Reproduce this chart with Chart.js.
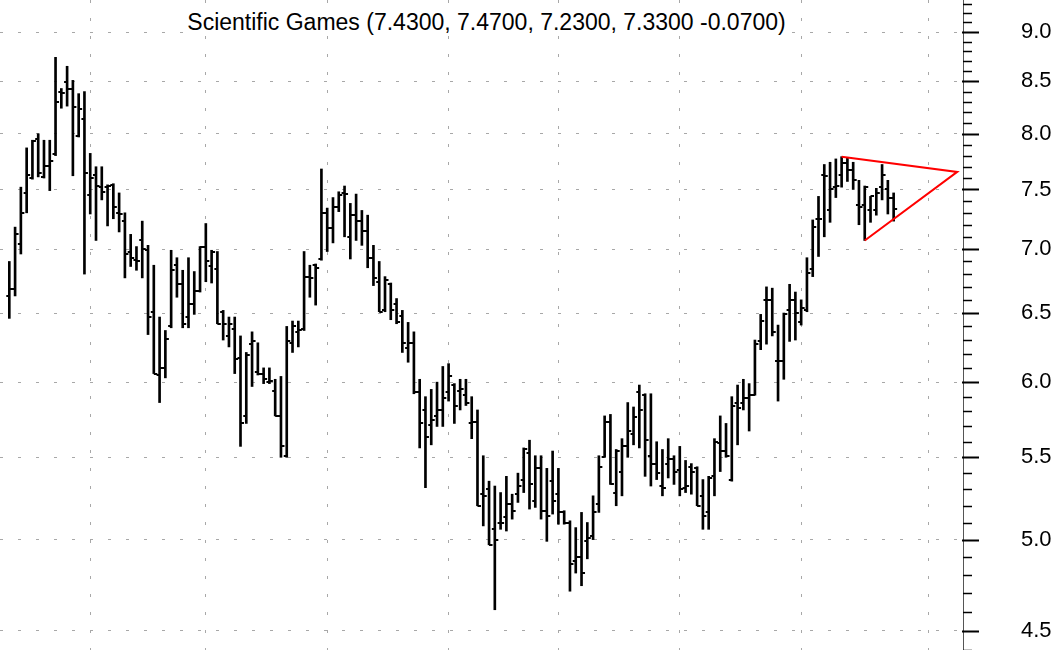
<!DOCTYPE html>
<html>
<head>
<meta charset="utf-8">
<script src="https://cdn.jsdelivr.net/npm/chart.js@4.4.1/dist/chart.umd.min.js"></script>
<style>
  body { margin: 0; background: #fff; }
  #wrap { position: relative; width: 1061px; height: 650px; overflow: hidden; }
  #caption { position: absolute; left: 0; top: 8px; width: 973px; text-align: center;
             font-family: 'Liberation Sans', Arial, sans-serif; font-size: 23px; line-height: 28px; color: #000; }
  #caption span { background: #fff; padding: 0 3px; }
</style>
</head>
<body>
<div id="wrap">
  <canvas id="chart" width="1061" height="650"></canvas>
  <div id="caption"><span>Scientific Games (7.4300, 7.4700, 7.2300, 7.3300 -0.0700)</span></div>
</div>
<script>
// daily bars, oldest first
const opens = [
  6.63, 6.68, 7.04, 7.47, 7.60, 7.95, 7.61, 7.71, 7.81, 8.40,
  8.49, 8.43, 7.98, 8.14, 7.45, 7.63, 7.52, 7.52, 7.54, 7.30,
  7.23, 6.98, 6.91, 7.07, 6.99, 6.51, 6.05, 6.10, 6.40, 6.87,
  6.72, 6.47, 6.57, 6.67, 7.02, 6.86, 6.84, 6.51, 6.33, 6.38,
  6.17, 5.77, 6.27, 6.07, 6.06, 6.00, 5.94, 5.77, 5.51, 6.28,
  6.36, 6.38, 6.78, 6.87, 6.92, 7.30, 7.17, 7.35, 7.47, 7.10,
  7.28, 7.23, 7.15, 6.93, 6.74, 6.52, 6.72, 6.57, 6.48, 6.24,
  6.28, 5.93, 5.81, 5.71, 5.77, 5.81, 5.93, 5.98, 5.94, 5.91,
  5.72, 5.73, 5.27, 5.30, 5.06, 5.10, 5.13, 5.21, 5.27, 5.36,
  5.53, 5.23, 5.43, 5.17, 5.35, 5.27, 5.16, 5.10, 4.88, 4.90,
  4.99, 5.02, 5.21, 5.50, 5.73, 5.28, 5.41, 5.57, 5.65, 5.93,
  5.91, 5.51, 5.46, 5.32, 5.46, 5.49, 5.42, 5.31, 5.44, 5.43,
  5.26, 5.16, 5.38, 5.59, 5.54, 5.36, 5.86, 5.86, 5.89, 5.91,
  6.29, 6.60, 6.60, 6.15, 6.15, 6.52, 6.60, 6.43, 6.52, 6.84,
  7.25, 7.63, 7.32, 7.52, 7.63, 7.73, 7.67, 7.37, 7.37, 7.32,
  7.32, 7.52, 7.50, 7.43
];
const highs = [
  6.90, 7.18, 7.52, 7.87, 7.94, 8.00, 7.94, 7.94, 8.74, 8.43,
  8.65, 8.51, 8.38, 8.40, 7.82, 7.70, 7.70, 7.54, 7.55, 7.47,
  7.30, 7.12, 7.02, 7.23, 7.03, 6.87, 6.47, 6.37, 6.99, 6.93,
  6.83, 6.93, 6.82, 7.02, 7.21, 6.99, 6.98, 6.52, 6.47, 6.47,
  6.33, 6.21, 6.36, 6.28, 6.10, 6.10, 6.02, 6.04, 6.40, 6.44,
  6.44, 6.98, 6.87, 6.88, 7.68, 7.34, 7.43, 7.48, 7.53, 7.38,
  7.46, 7.32, 7.28, 7.03, 6.90, 6.78, 6.73, 6.61, 6.52, 6.43,
  6.36, 6.02, 5.90, 5.95, 6.00, 6.11, 6.13, 5.99, 6.02, 6.02,
  5.90, 5.81, 5.51, 5.35, 5.32, 5.28, 5.38, 5.27, 5.40, 5.56,
  5.61, 5.51, 5.51, 5.43, 5.54, 5.43, 5.17, 5.11, 5.07, 5.16,
  5.10, 5.26, 5.51, 5.77, 5.78, 5.55, 5.62, 5.86, 5.83, 5.98,
  5.92, 5.92, 5.60, 5.55, 5.62, 5.51, 5.57, 5.48, 5.46, 5.44,
  5.36, 5.38, 5.62, 5.77, 5.72, 5.90, 5.98, 6.02, 5.99, 6.30,
  6.49, 6.70, 6.69, 6.41, 6.50, 6.72, 6.66, 6.60, 6.93, 7.24,
  7.44, 7.72, 7.74, 7.77, 7.79, 7.78, 7.74, 7.58, 7.53, 7.44,
  7.51, 7.72, 7.58, 7.47
];
const lows = [
  6.46, 6.63, 6.96, 7.30, 7.59, 7.61, 7.60, 7.49, 7.80, 8.24,
  8.26, 7.62, 7.97, 6.80, 7.29, 7.07, 7.41, 7.19, 7.25, 7.14,
  6.77, 6.86, 6.83, 6.77, 6.34, 6.06, 5.86, 6.03, 6.39, 6.62,
  6.39, 6.39, 6.49, 6.66, 6.74, 6.73, 6.42, 6.30, 6.25, 6.06,
  5.57, 5.72, 5.97, 6.05, 5.99, 5.99, 5.77, 5.50, 5.50, 6.21,
  6.25, 6.37, 6.62, 6.56, 6.91, 6.98, 7.05, 7.31, 7.10, 6.92,
  7.07, 7.03, 6.85, 6.71, 6.51, 6.51, 6.45, 6.42, 6.21, 6.14,
  5.92, 5.56, 5.31, 5.58, 5.70, 5.70, 5.87, 5.72, 5.81, 5.84,
  5.62, 5.20, 5.08, 4.97, 4.61, 5.06, 5.05, 5.12, 5.22, 5.28,
  5.18, 5.19, 5.12, 4.99, 5.15, 5.09, 5.09, 4.71, 4.81, 4.74,
  4.89, 5.00, 5.16, 5.50, 5.33, 5.20, 5.26, 5.50, 5.58, 5.56,
  5.38, 5.32, 5.36, 5.26, 5.37, 5.33, 5.26, 5.28, 5.27, 5.20,
  5.06, 5.06, 5.26, 5.41, 5.50, 5.35, 5.58, 5.81, 5.67, 5.91,
  6.23, 6.27, 6.33, 5.87, 6.02, 6.29, 6.30, 6.41, 6.51, 6.78,
  6.94, 7.10, 7.22, 7.43, 7.52, 7.57, 7.50, 7.20, 7.07, 7.22,
  7.28, 7.41, 7.29, 7.23
];
const closes = [
  6.68, 7.12, 7.30, 7.63, 7.93, 7.64, 7.71, 7.75, 8.30, 8.39,
  8.43, 8.25, 8.23, 7.64, 7.60, 7.53, 7.48, 7.53, 7.35, 7.29,
  6.96, 6.93, 6.90, 7.00, 6.47, 6.06, 6.10, 6.31, 6.83, 6.72,
  6.42, 6.57, 6.67, 7.02, 6.90, 6.98, 6.42, 6.42, 6.42, 6.16,
  5.72, 6.19, 6.29, 6.06, 6.02, 6.01, 5.77, 5.57, 6.29, 6.40,
  6.37, 6.78, 6.77, 6.85, 7.30, 7.17, 7.35, 7.45, 7.46, 7.28,
  7.23, 7.15, 6.93, 6.77, 6.51, 6.75, 6.52, 6.43, 6.28, 6.28,
  5.93, 5.72, 5.63, 5.74, 5.81, 5.89, 6.04, 5.84, 5.95, 5.86,
  5.73, 5.20, 5.26, 4.97, 5.00, 5.10, 5.21, 5.17, 5.32, 5.55,
  5.33, 5.43, 5.17, 5.14, 5.23, 5.16, 5.10, 4.86, 4.90, 4.81,
  5.01, 5.16, 5.44, 5.73, 5.33, 5.54, 5.57, 5.67, 5.76, 5.81,
  5.61, 5.46, 5.40, 5.31, 5.49, 5.41, 5.30, 5.32, 5.41, 5.20,
  5.14, 5.37, 5.60, 5.54, 5.51, 5.84, 5.82, 5.89, 5.91, 6.27,
  6.44, 6.60, 6.36, 6.15, 6.49, 6.60, 6.50, 6.54, 6.81, 7.18,
  7.25, 7.62, 7.50, 7.53, 7.73, 7.67, 7.58, 7.35, 7.52, 7.44,
  7.47, 7.63, 7.43, 7.33
];

// triangle drawn on the chart: bar index / price
const triangleX = [144, 164, 148];
const triangleY = [7.79, 7.654, 7.07];

// bar index where each month starts (vertical grid)
const monthStarts = [14, 34, 55, 76, 95, 116, 137, 159];

// price axis
const priceLabels = [4.5, 5.0, 5.5, 6.0, 6.5, 7.0, 7.5, 8.0, 8.5, 9.0];
const priceMin = 4.40;
const priceMax = 9.34;
const xMin = -1.61;
const xMax = 165;

const minorTicks = [];
for (let k = 44; k <= 93; k++) minorTicks.push(k / 10);
const isMajor = v => priceLabels.some(p => Math.abs(p - v) < 1e-6);

// open/close ticks and the price axis tick marks
const ohlcPlugin = {
  id: 'ohlcTicks',
  afterDatasetsDraw(chart) {
    const { ctx, scales: { x, y } } = chart;
    ctx.save();
    ctx.strokeStyle = '#000';
    ctx.lineWidth = 2;
    ctx.beginPath();
    for (let i = 0; i < opens.length; i++) {
      const px = x.getPixelForValue(i);
      const yo = Math.round(y.getPixelForValue(opens[i]));
      const yc = Math.round(y.getPixelForValue(closes[i]));
      ctx.moveTo(px - 3, yo); ctx.lineTo(px, yo);
      ctx.moveTo(px, yc); ctx.lineTo(px + 3.5, yc);
    }
    ctx.stroke();
    ctx.restore();
  },
  afterDraw(chart) {
    const { ctx, scales: { y } } = chart;
    ctx.save();
    ctx.strokeStyle = '#000';
    minorTicks.forEach(v => {
      const py = Math.round(y.getPixelForValue(v)) + 0.5;
      const major = isMajor(v);
      ctx.lineWidth = major ? 2 : 1.5;
      ctx.beginPath();
      ctx.moveTo(y.left - (major ? 1 : 0), py);
      ctx.lineTo(y.left + (major ? 16 : 9), py);
      ctx.stroke();
    });
    ctx.restore();
  }
};

new Chart(document.getElementById('chart'), {
  type: 'bar',
  data: {
    datasets: [
      {
        type: 'bar',
        data: opens.map((o, i) => ({ x: i, y: [lows[i], highs[i]] })),
        backgroundColor: '#000',
        borderWidth: 0,
        barThickness: 2,
        order: 2
      },
      {
        type: 'line',
        data: triangleX.map((v, i) => ({ x: v, y: triangleY[i] })),
        borderColor: '#ff0000',
        borderWidth: 2,
        pointRadius: 0,
        tension: 0,
        fill: false,
        order: 1
      }
    ]
  },
  options: {
    responsive: false,
    animation: false,
    devicePixelRatio: 1,
    layout: { padding: 0, autoPadding: false },
    plugins: { legend: { display: false }, tooltip: { enabled: false }, title: { display: false } },
    scales: {
      x: {
        type: 'linear',
        min: xMin,
        max: xMax,
        offset: false,
        position: 'bottom',
        afterBuildTicks: s => { s.ticks = monthStarts.map(v => ({ value: v })); },
        afterFit: s => { s.height = 0; s.paddingLeft = 0; s.paddingRight = 0; },
        ticks: { display: false },
        grid: { color: '#a8a8a8', lineWidth: 1, drawTicks: false, offset: false },
        border: { display: false, dash: [3, 15] }
      },
      y: {
        type: 'logarithmic',
        position: 'right',
        min: priceMin,
        max: priceMax,
        afterBuildTicks: s => { s.ticks = minorTicks.map(v => ({ value: v })); },
        afterFit: s => { s.width = 98; s.paddingTop = 0; s.paddingBottom = 0; },
        ticks: {
          autoSkip: false,
          padding: 0,
          color: '#000',
          font: { family: "'Liberation Sans', Arial, sans-serif", size: 22 },
          callback: v => isMajor(v) ? v.toFixed(1) : null
        },
        grid: {
          drawTicks: true,
          tickLength: 58,
          tickColor: 'rgba(0,0,0,0)',
          lineWidth: 1,
          color: ctx => isMajor(ctx.tick.value) ? '#a8a8a8' : 'rgba(0,0,0,0)'
        },
        border: { display: true, color: '#555', width: 1, dash: [3, 15] }
      }
    }
  },
  plugins: [ohlcPlugin]
});
</script>
</body>
</html>
